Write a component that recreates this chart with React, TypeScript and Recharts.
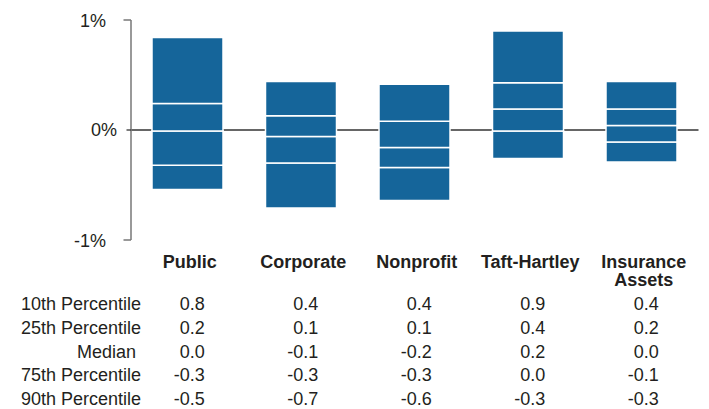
import React from 'react';
import { BarChart, Bar, XAxis, YAxis, CartesianGrid } from 'recharts';

const categories = ['Public', 'Corporate', 'Nonprofit', 'Taft-Hartley', 'Insurance Assets'];
const categoryLines = [['Public'], ['Corporate'], ['Nonprofit'], ['Taft-Hartley'], ['Insurance', 'Assets']];
const p10 = [0.84, 0.44, 0.415, 0.9, 0.44];
const p25 = [0.24, 0.13, 0.08, 0.43, 0.19];
const median = [-0.01, -0.06, -0.16, 0.19, 0.04];
const p75 = [-0.32, -0.3, -0.34, -0.01, -0.11];
const p90 = [-0.54, -0.71, -0.64, -0.26, -0.29];
const rowLabels = ['10th Percentile', '25th Percentile', 'Median\u00A0', '75th Percentile', '90th Percentile'];
const yTicks = [-1, 0, 1];
const yTickLabels = ['-1%', '0%', '1%'];

const rows = [p10, p25, median, p75, p90];

const data = categories.map((name, i) => ({
  name,
  base: p90[i],
  s1: p75[i] - p90[i],
  s2: median[i] - p75[i],
  s3: p25[i] - median[i],
  s4: p10[i] - p25[i],
}));

const FONT = '"Liberation Sans", Arial, Helvetica, sans-serif';
const TEXT = '#231f20';
const BLUE = '#15659a';

const fmt = (v: number) => {
  const r = Math.round(v * 10) / 10;
  return (r === 0 ? 0 : r).toFixed(1);
};

const ROW_BASE = 70;
const ROW_STEP = 23.8;

const XTick = (props: any) => {
  const { x, y, index } = props;
  const lines = categoryLines[index] || [];
  return (
    <g>
      {lines.map((l, k) => (
        <text key={k} x={x + 2} y={y + 27.5 + k * 18} textAnchor="middle" fontFamily={FONT} fontSize={18} fontWeight="bold" fill={TEXT}>
          {l}
        </text>
      ))}
      {rows.map((arr, r) => (
        <text key={'v' + r} x={x + 17} y={y + ROW_BASE + r * ROW_STEP} textAnchor="end" fontFamily={FONT} fontSize={18} fill={TEXT}>
          {fmt(arr[index])}
        </text>
      ))}
    </g>
  );
};

const YTick = (props: any) => {
  const { x, y, payload } = props;
  const v = payload.value;
  const idx = yTicks.indexOf(v);
  const label = yTickLabels[idx];
  if (v === 0) {
    return (
      <g>
        <line x1={x - 4.5} x2={x} y1={y} y2={y} stroke="#333" strokeWidth={1.3} />
        <text x={x - 14} y={y + 6} textAnchor="end" fontFamily={FONT} fontSize={18} fill={TEXT}>
          {label}
        </text>
      </g>
    );
  }
  return (
    <g>
      <line x1={x - 7.5} x2={x} y1={y} y2={y} stroke="#777" strokeWidth={1.5} />
      <text x={x - 25} y={y + 6.5} textAnchor="end" fontFamily={FONT} fontSize={18} fill={TEXT}>
        {label}
      </text>
    </g>
  );
};

export default function App() {
  return (
    <div style={{ position: 'absolute', left: 0, top: 0, width: 709, height: 409, background: '#fff' }}>
      <BarChart
        width={709}
        height={409}
        data={data}
        margin={{ top: 20, right: 10.5, left: 0, bottom: 0 }}
        barSize={71}
        stackOffset="none"
      >
        <CartesianGrid horizontal vertical={false} horizontalValues={[0]} stroke="#333" strokeWidth={1.3} strokeDasharray="" />
        <XAxis
          dataKey="name"
          height={169}
          axisLine={false}
          tickLine={false}
          tickSize={0}
          tickMargin={0}
          interval={0}
          tick={<XTick />}
        />
        <YAxis
          width={131}
          domain={[-1, 1]}
          ticks={yTicks}
          type="number"
          allowDataOverflow
          axisLine={{ stroke: '#777', strokeWidth: 1.5 }}
          tickLine={false}
          tickSize={0}
          tickMargin={0}
          tick={<YTick />}
        />
        <Bar dataKey="base" stackId="a" fill="transparent" stroke="none" isAnimationActive={false} />
        <Bar dataKey="s1" stackId="a" fill={BLUE} stroke="#fff" strokeWidth={1.5} isAnimationActive={false} />
        <Bar dataKey="s2" stackId="a" fill={BLUE} stroke="#fff" strokeWidth={1.5} isAnimationActive={false} />
        <Bar dataKey="s3" stackId="a" fill={BLUE} stroke="#fff" strokeWidth={1.5} isAnimationActive={false} />
        <Bar dataKey="s4" stackId="a" fill={BLUE} stroke="#fff" strokeWidth={1.5} isAnimationActive={false} />
      </BarChart>
      <svg width={709} height={409} style={{ position: 'absolute', left: 0, top: 0, pointerEvents: 'none' }}>
        {rowLabels.map((l, r) => (
          <text key={r} x={141} y={240 + ROW_BASE + r * ROW_STEP} textAnchor="end" fontFamily={FONT} fontSize={18} fill={TEXT}>
            {l}
          </text>
        ))}
      </svg>
    </div>
  );
}
